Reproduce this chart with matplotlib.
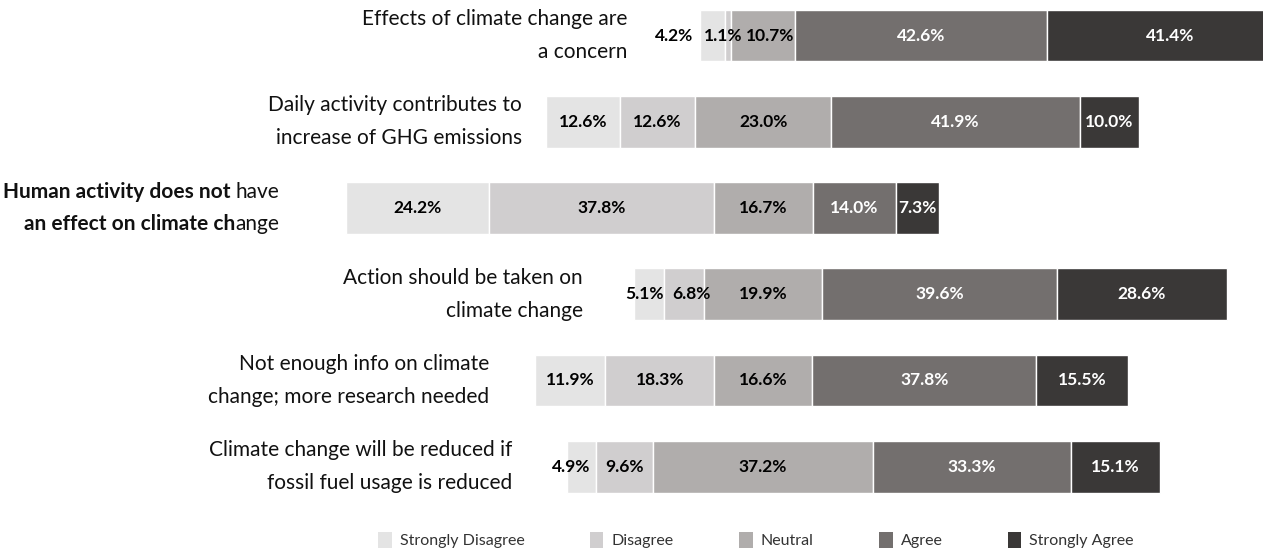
import matplotlib.pyplot as plt
from matplotlib.patches import Patch
from matplotlib import transforms

plt.rcParams['font.family'] = ['Lato', 'DejaVu Sans']

# Survey statements (top to bottom) and Likert shares in percent
statements = [
    "Effects of climate change are\na concern",
    "Daily activity contributes to\nincrease of GHG emissions",
    "Human activity does not have\nan effect on climate change",
    "Action should be taken on\nclimate change",
    "Not enough info on climate\nchange; more research needed",
    "Climate change will be reduced if\nfossil fuel usage is reduced",
]
strongly_disagree = [4.2, 12.6, 24.2, 5.1, 11.9, 4.9]
disagree = [1.1, 12.6, 37.8, 6.8, 18.3, 9.6]
neutral = [10.7, 23.0, 16.7, 19.9, 16.6, 37.2]
agree = [42.6, 41.9, 14.0, 39.6, 37.8, 33.3]
strongly_agree = [41.4, 10.0, 7.3, 28.6, 15.5, 15.1]
categories = ["Strongly Disagree", "Disagree", "Neutral", "Agree", "Strongly Agree"]

colors = ["#e4e4e4", "#d0cecf", "#b0adac", "#736f6e", "#3a3837"]
text_colors = ["black", "black", "black", "white", "white"]

# right edge (pixels) of each statement label
label_right_px = [627, 522, 279, 583, 489, 512]
# horizontal nudges (pixels) for value labels on narrow segments
nudge_px = {(0, 0): -38, (0, 1): -5, (0, 2): 7, (3, 0): -4, (3, 1): 7, (5, 0): -10}

W, H = 1263, 555
fig = plt.figure(figsize=(W / 100, H / 100), dpi=100)
ax = fig.add_axes([0, 0, 1, 1])
ax.set_xlim(-128.7, 84.3)
ax.set_ylim(6.024, -0.412)
ax.axis("off")

series = [strongly_disagree, disagree, neutral, agree, strongly_agree]

for i in range(len(statements)):
    # center each bar on the middle of its Neutral segment
    left = -(strongly_disagree[i] + disagree[i] + neutral[i] / 2)
    for k, vals in enumerate(series):
        w = vals[i]
        ax.barh(i, w, left=left, height=0.6, color=colors[k],
                edgecolor="white", linewidth=1)
        dx = nudge_px.get((i, k), 0) * 0.72
        ax.annotate(f"{w:.1f}%", (left + w / 2, i), xytext=(dx, 0),
                    textcoords="offset points", ha="center", va="center",
                    fontsize=12.5, fontweight="bold", color=text_colors[k])
        left += w

# statement labels
trans = transforms.blended_transform_factory(fig.transFigure, ax.transData)
renderer = fig.canvas.get_renderer()
line_off = 0.19

mixed = {
    2: [[("Human activity does not", "bold"), ("have", "normal")],
        [("an effect on climate ch", "bold"), ("ange", "normal")]],
}

for i, label in enumerate(statements):
    x0 = label_right_px[i] / W
    if i in mixed:
        for j, pieces in enumerate(mixed[i]):
            y = i - line_off if j == 0 else i + line_off
            x = x0
            for txt, wt in reversed(pieces):
                t = ax.text(x, y, txt, transform=trans, ha="right", va="center",
                            fontsize=15, fontweight=wt, color="#111111")
                bb = t.get_window_extent(renderer)
                gap = 5 if txt == "have" else 0
                x -= (bb.width + gap) / W
    else:
        lines = label.split("\n")
        for j, line in enumerate(lines):
            y = i - line_off if j == 0 else i + line_off
            ax.text(x0, y, line, transform=trans, ha="right", va="center",
                    fontsize=15, color="#111111")

handles = [Patch(facecolor=c, edgecolor="none", label=lab)
           for c, lab in zip(colors, categories)]
fig.legend(handles=handles, loc="center", bbox_to_anchor=(756 / W, 1 - 540 / H),
           ncol=5, frameon=False, fontsize=11.5, handlelength=0.85,
           handleheight=1.25, handletextpad=0.5, columnspacing=4.1,
           labelcolor="#333333")

fig.savefig("out.png", dpi=100)
